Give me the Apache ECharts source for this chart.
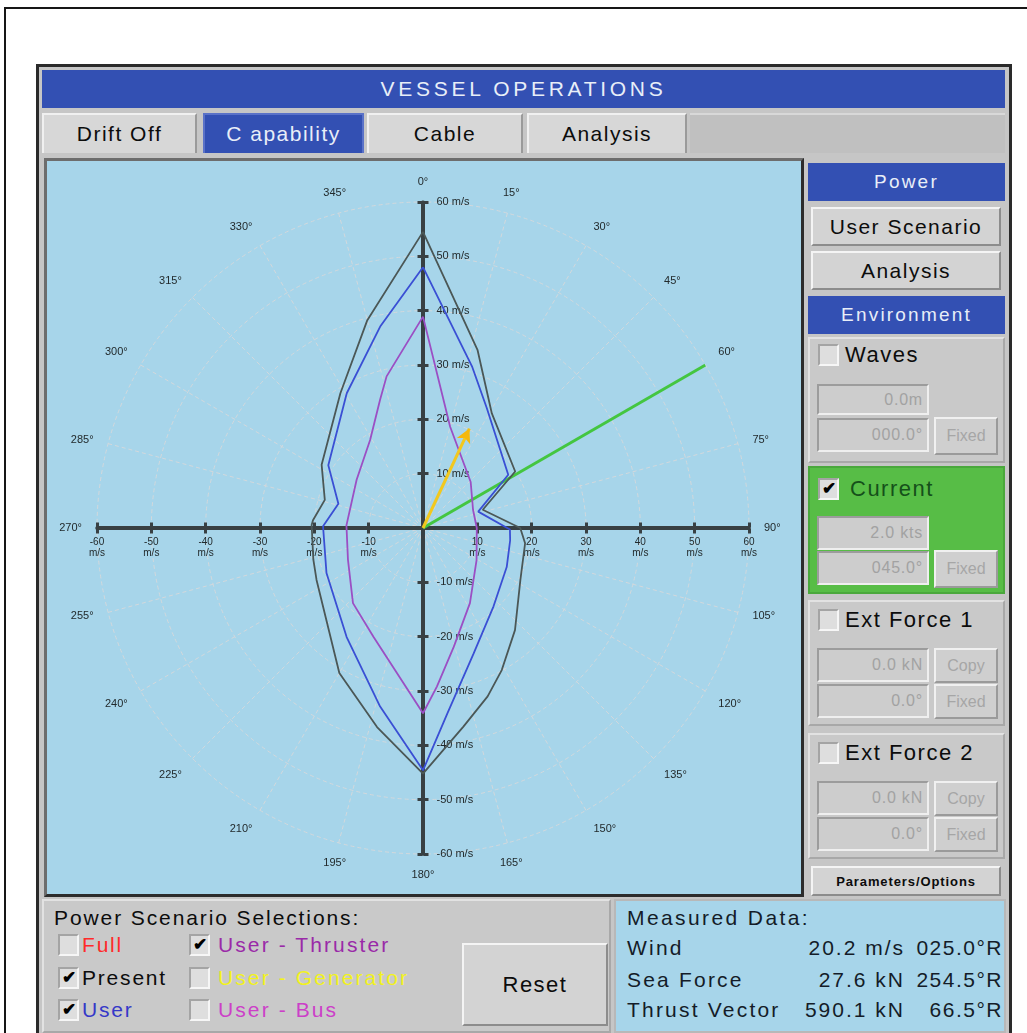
<!DOCTYPE html>
<html>
<head>
<meta charset="utf-8">
<script src="https://cdn.jsdelivr.net/npm/echarts@6/dist/echarts.min.js"></script>
<style>
html,body{margin:0;padding:0;background:#fff;width:1027px;height:1033px;overflow:hidden;font-family:"Liberation Sans",Arial,sans-serif;}
.a{position:absolute;box-sizing:border-box;}
.txt{display:flex;align-items:center;justify-content:center;white-space:nowrap;}
.btn{background:#d3d3d3;border-top:2px solid #f4f4f4;border-left:2px solid #f4f4f4;border-bottom:2px solid #8c8c8c;border-right:2px solid #8c8c8c;color:#0c0c0c;font-size:21px;letter-spacing:1.5px;}
.hdr{background:#3350b3;color:#e8eef8;font-size:19px;letter-spacing:2.2px;}
.inp{background:#cdcdcd;border-top:2px solid #9c9c9c;border-left:2px solid #9c9c9c;border-bottom:2px solid #efefef;border-right:2px solid #efefef;color:#a2a2a2;font-size:16px;justify-content:flex-end;padding-right:4px;letter-spacing:0.8px;}
.sbtn{background:#cfcfcf;border-top:2px solid #f0f0f0;border-left:2px solid #f0f0f0;border-bottom:2px solid #9a9a9a;border-right:2px solid #9a9a9a;color:#a6a6a6;font-size:16px;}
.sec{background:#c9c9c9;border-top:2px solid #e2e2e2;border-left:2px solid #e2e2e2;border-bottom:2px solid #a8a8a8;border-right:2px solid #a8a8a8;}
.cb{background:#dedede;border-top:2px solid #a4a4a4;border-left:2px solid #a4a4a4;border-bottom:2px solid #f6f6f6;border-right:2px solid #f6f6f6;font-size:17px;color:#000;font-weight:bold;line-height:18px;text-align:center;}
.lbl{font-size:21px;letter-spacing:1.5px;color:#0c0c0c;white-space:nowrap;line-height:24px;}
.tab{background:#d7d7d7;border-top:2px solid #f0f0f0;border-left:2px solid #f0f0f0;border-right:2px solid #9a9a9a;color:#0c0c0c;font-size:21px;letter-spacing:1.5px;}
</style>
</head>
<body>
<!-- page frame -->
<div class="a" style="left:4px;top:7px;width:1060px;height:1060px;border:2px solid #161616;"></div>
<div class="a" style="left:36px;top:64px;width:976px;height:990px;background:#c6c6c6;border-top:3px solid #2a2a2a;border-left:3px solid #2a2a2a;border-right:3px solid #2a2a2a;"></div>

<!-- header -->
<div class="a txt hdr" style="left:42px;top:70px;width:963px;height:38px;font-size:21px;letter-spacing:3.7px;">VESSEL OPERATIONS</div>

<!-- tabs -->
<div id="tabs"></div>

<!-- chart frame -->
<div class="a" style="left:44px;top:158px;width:760px;height:739px;background:#a7d5ea;border-top:3px solid #6d6d6d;border-left:3px solid #6d6d6d;border-bottom:3px solid #2c2c2c;border-right:3px solid #2c2c2c;"></div>

<!-- right panel -->
<div id="rpanel"></div>

<!-- bottom left -->
<div class="a sec" style="left:42px;top:899px;width:569px;height:134px;"></div>
<div class="a lbl" style="left:54px;top:906px;letter-spacing:1.9px;">Power Scenario Selections:</div>
<div id="scen"></div>
<div class="a txt btn" style="left:462px;top:943px;width:146px;height:83px;font-size:22px;">Reset</div>

<!-- measured data -->
<div class="a" style="left:614px;top:899px;width:392px;height:134px;background:#a7d5ea;border:2px solid #b8b8b8;"></div>
<div id="meas"></div>

<div id="chart" style="position:absolute;left:0;top:0;width:1027px;height:1033px;"></div>

<script>
// ---------------- DATA ----------------
// Capability envelopes: angle (deg, clockwise from 0° = up) and wind speed radius (m/s)
const presentAngles  = [0, 17, 31, 58.5, 73, 90, 98.5, 118, 138, 151, 159, 168.5, 180, 193, 210, 244, 254, 271.5, 274, 286, 302, 328.5, 345, 360];
const presentRadii   = [54.5, 34.3, 24.6, 19.9, 11.5, 17.9, 19.0, 20.3, 25.3, 29.9, 33.2, 37.3, 45.2, 37.6, 30.8, 21.8, 21.0, 20.5, 20.3, 18.8, 22.0, 29.1, 39.6, 54.5];

const userAngles     = [0, 17, 28, 58, 73.5, 91, 98, 115, 138, 158, 172.5, 180, 193.5, 215, 245, 271, 286, 303.5, 330.5, 348, 360];
const userRadii      = [48.0, 31.0, 25.0, 18.5, 10.6, 16.0, 16.2, 17.0, 19.4, 24.9, 34.4, 44.6, 33.8, 24.5, 19.6, 18.4, 16.2, 20.9, 28.5, 37.9, 48.0];

const thrusterAngles = [0, 15, 46, 70, 90, 121, 148, 165.5, 175, 180, 204.5, 223, 247, 272, 306, 329, 341.5, 346.5, 360];
const thrusterRadii  = [38.9, 19.3, 12.2, 9.8, 9.9, 11.5, 16.3, 22.6, 29.3, 34.1, 22.0, 18.9, 15.0, 14.1, 15.1, 18.9, 24.9, 28.7, 38.9];

// Vectors drawn from origin
const currentVector = {angle: 60, magnitude: 60.3};
const windVector    = {angle: 25, magnitude: 20.2};

// Axis ticks
const axisTicks = [-60, -50, -40, -30, -20, -10, 0, 10, 20, 30, 40, 50, 60];
const angleTickStep = 15;

// UI text
const tabNames = ['Drift Off', 'C apability', 'Cable', 'Analysis'];
const scenarioCol1 = ['Full', 'Present', 'User'];
const scenarioCol1Colors = ['#ff2a2a', '#0c0c0c', '#3538c8'];
const scenarioCol1Checked = [false, true, true];
const scenarioCol2 = ['User - Thruster', 'User - Generator', 'User - Bus'];
const scenarioCol2Colors = ['#9a2aa8', '#f2f21e', '#cc3fc8'];
const scenarioCol2Checked = [true, false, false];
const measLabels = ['Wind', 'Sea Force', 'Thrust Vector'];
const measValues = ['20.2 m/s', '27.6 kN', '590.1 kN'];
const measAngles = ['025.0°R', '254.5°R', '66.5°R'];

// ---------------- UI ----------------
function el(parent, cls, style, html){
  const d = document.createElement('div');
  d.className = cls; d.setAttribute('style', style); if(html!==undefined) d.innerHTML = html;
  parent.appendChild(d); return d;
}
const tabs = document.getElementById('tabs');
const tabX = [[42,155],[203,161],[367,156],[527,160]];
tabNames.forEach((t,i)=>{
  const active = i===1;
  el(tabs, 'a txt tab', `left:${tabX[i][0]}px;top:113px;width:${tabX[i][1]}px;height:40px;` + (active?'background:#3350b3;color:#e8eef8;border-color:#5a72c8;':''), t);
});
el(tabs, 'a', 'left:690px;top:113px;width:315px;height:40px;background:#c0c0c0;border-top:2px solid #d8d8d8;');

const rp = document.getElementById('rpanel');
el(rp, 'a txt hdr', 'left:808px;top:163px;width:197px;height:38px;', 'Power');
el(rp, 'a txt btn', 'left:811px;top:207px;width:190px;height:39px;', 'User Scenario');
el(rp, 'a txt btn', 'left:811px;top:251px;width:190px;height:39px;', 'Analysis');
el(rp, 'a txt hdr', 'left:808px;top:296px;width:197px;height:38px;', 'Environment');
// Waves
el(rp, 'a sec', 'left:808px;top:337px;width:197px;height:126px;');
el(rp, 'a cb', 'left:818px;top:344px;width:21px;height:22px;');
el(rp, 'a lbl', 'left:845px;top:343px;font-size:22px;', 'Waves');
el(rp, 'a txt inp', 'left:817px;top:384px;width:112px;height:31px;', '0.0m');
el(rp, 'a txt inp', 'left:817px;top:418px;width:112px;height:34px;', '000.0°');
el(rp, 'a txt sbtn', 'left:934px;top:417px;width:64px;height:38px;', 'Fixed');
// Current
el(rp, 'a', 'left:808px;top:466px;width:197px;height:128px;background:#57bd46;border:2px solid #4aa83c;');
el(rp, 'a cb', 'left:818px;top:478px;width:21px;height:22px;', '✔');
el(rp, 'a lbl', 'left:850px;top:477px;font-size:22px;color:#15501a;', 'Current');
el(rp, 'a txt inp', 'left:817px;top:516px;width:112px;height:34px;', '2.0 kts');
el(rp, 'a txt inp', 'left:817px;top:551px;width:112px;height:34px;', '045.0°');
el(rp, 'a txt sbtn', 'left:934px;top:550px;width:64px;height:38px;', 'Fixed');
// Ext force 1 & 2
[[600,'Ext Force 1'],[733,'Ext Force 2']].forEach(([y,name])=>{
  el(rp, 'a sec', `left:808px;top:${y}px;width:197px;height:126px;`);
  el(rp, 'a cb', `left:818px;top:${y+9}px;width:21px;height:22px;`);
  el(rp, 'a lbl', `left:845px;top:${y+8}px;font-size:22px;`, name);
  el(rp, 'a txt inp', `left:817px;top:${y+48}px;width:112px;height:34px;`, '0.0 kN');
  el(rp, 'a txt sbtn', `left:934px;top:${y+48}px;width:64px;height:35px;`, 'Copy');
  el(rp, 'a txt inp', `left:817px;top:${y+84}px;width:112px;height:34px;`, '0.0°');
  el(rp, 'a txt sbtn', `left:934px;top:${y+84}px;width:64px;height:35px;`, 'Fixed');
});
el(rp, 'a txt btn', 'left:811px;top:866px;width:190px;height:30px;font-size:13px;font-weight:bold;letter-spacing:0.9px;', 'Parameters/Options');

// scenarios
const sc = document.getElementById('scen');
const rowY = [945, 978, 1010];
scenarioCol1.forEach((t,i)=>{
  el(sc, 'a cb', `left:58px;top:${rowY[i]-11}px;width:21px;height:22px;`, scenarioCol1Checked[i]?'✔':'');
  el(sc, 'a lbl', `left:82px;top:${rowY[i]-12}px;color:${scenarioCol1Colors[i]};letter-spacing:1.8px;`, t);
});
scenarioCol2.forEach((t,i)=>{
  el(sc, 'a cb', `left:189px;top:${rowY[i]-11}px;width:21px;height:22px;`, scenarioCol2Checked[i]?'✔':'');
  el(sc, 'a lbl', `left:218px;top:${rowY[i]-12}px;color:${scenarioCol2Colors[i]};letter-spacing:2.1px;`, t);
});

// measured data
const me = document.getElementById('meas');
el(me, 'a lbl', 'left:627px;top:906px;letter-spacing:2.4px;color:#141c28;', 'Measured Data:');
const mY = [948, 980, 1010];
measLabels.forEach((t,i)=>{
  el(me, 'a lbl', `left:627px;top:${mY[i]-12}px;letter-spacing:2.2px;color:#141c28;`, t);
  el(me, 'a lbl', `right:${1027-905}px;top:${mY[i]-12}px;letter-spacing:2px;color:#141c28;text-align:right;`, measValues[i]);
  el(me, 'a lbl', `right:${1027-1003}px;top:${mY[i]-12}px;letter-spacing:1.5px;color:#141c28;text-align:right;`, measAngles[i]);
});

// ---------------- CHART ----------------
const zip = (r,a)=>r.map((v,i)=>[v,a[i]]);
const CX = 423, CY = 528, R = 326;
const gridLine = {color:'#d2d8dc', type:[4,3], width:1};
const axisColor = '#384043';
const labelColor = '#222a2c';
const tickAxis = (extra) => Object.assign({
  type:'value', min:axisTicks[0], max:axisTicks[axisTicks.length-1], interval:10,
  axisLine:{onZero:false, lineStyle:{color:axisColor, width:3}},
  axisTick:{show:true, length:5, lineStyle:{color:axisColor, width:3}},
  splitLine:{show:false}, axisLabel:{show:false}
}, extra);
const hiddenAxis = (gi) => ({type:'value', gridIndex:gi, min:0, max:1, show:false, splitLine:{show:false}});

const chart = echarts.init(document.getElementById('chart'), null, {renderer:'canvas'});
const option = {
  backgroundColor: 'transparent',
  animation: false,
  polar: {center:[CX, CY], radius: R},
  angleAxis: {
    type:'value', min:0, max:360, interval:angleTickStep, startAngle:90, clockwise:true,
    axisLine:{show:false}, axisTick:{show:false},
    splitLine:{show:true, lineStyle:gridLine},
    axisLabel:{show:true, margin:15, align:'center', verticalAlign:'middle', color:labelColor, fontSize:11, fontFamily:'Liberation Sans',
      formatter: v => v===360 ? '' : v + '°'}
  },
  radiusAxis: {
    type:'value', min:0, max:60, interval:10,
    axisLine:{show:false}, axisTick:{show:false}, axisLabel:{show:false},
    splitLine:{show:true, lineStyle:gridLine}
  },
  grid: [
    {left: CX-R, top: CY-0.5, width: 2*R, height: 1},
    {left: CX-0.5, top: CY-R, width: 1, height: 2*R}
  ],
  xAxis: [
    tickAxis({gridIndex:0, position:'bottom',
      axisLabel:{show:true, margin:8, color:labelColor, fontSize:10, lineHeight:11, fontFamily:'Liberation Sans',
        formatter: v => v===0 ? '' : v + '\nm/s'}}),
    tickAxis({gridIndex:0, position:'top'}),
    hiddenAxis(1)
  ],
  yAxis: [
    hiddenAxis(0),
    tickAxis({gridIndex:1, position:'left'}),
    tickAxis({gridIndex:1, position:'right',
      axisLabel:{show:true, margin:13, color:labelColor, fontSize:11, fontFamily:'Liberation Sans',
        formatter: v => v===0 ? '' : v + ' m/s'}})
  ],
  series: [
    {name:'Current', type:'line', coordinateSystem:'polar', symbol:'none', z:3,
     lineStyle:{color:'#44c640', width:3},
     data:[[0,currentVector.angle],[currentVector.magnitude,currentVector.angle]]},
    {name:'User - Thruster', type:'line', coordinateSystem:'polar', symbol:'none', z:4,
     lineStyle:{color:'#9b4fc4', width:1.8}, data: zip(thrusterRadii, thrusterAngles)},
    {name:'User', type:'line', coordinateSystem:'polar', symbol:'none', z:4,
     lineStyle:{color:'#3a4fd4', width:1.8}, data: zip(userRadii, userAngles)},
    {name:'Present', type:'line', coordinateSystem:'polar', symbol:'none', z:4,
     lineStyle:{color:'#4b5756', width:1.8}, data: zip(presentRadii, presentAngles)},
    {name:'Wind', type:'line', coordinateSystem:'polar', z:6, showSymbol:true,
     lineStyle:{color:'#f2c81e', width:3},
     data:[{value:[0,windVector.angle], symbol:'none'},
           {value:[windVector.magnitude,windVector.angle], symbol:'arrow', symbolSize:[11,14],
            symbolRotate:-windVector.angle, itemStyle:{color:'#f5b80c'}}]}
  ]
};
chart.setOption(option);
</script>
</body>
</html>
